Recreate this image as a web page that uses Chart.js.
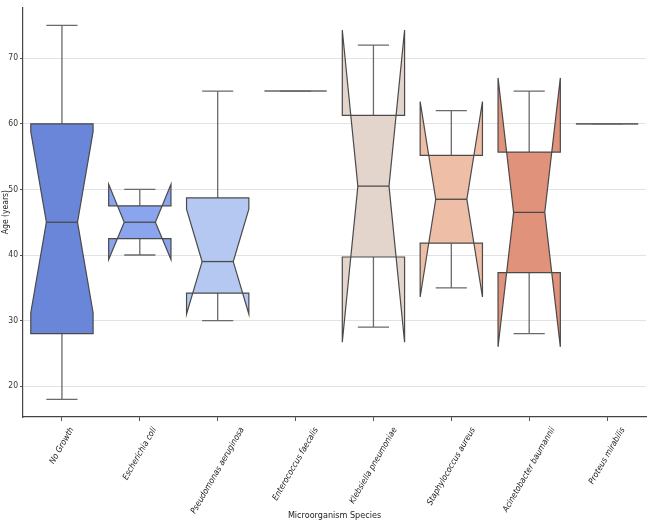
<!DOCTYPE html>
<html>
<head>
<meta charset="utf-8">
<script src="https://cdn.jsdelivr.net/npm/chart.js@4.4.1/dist/chart.umd.min.js"></script>
<style>
html,body{margin:0;padding:0;background:#fff;}
#wrap{width:650px;height:525px;}
</style>
</head>
<body>
<div id="wrap"><canvas id="c" width="650" height="525"></canvas></div>
<script>
const categories = ['No Growth','Escherichia coli','Pseudomonas aeruginosa','Enterococcus faecalis','Klebsiella pneumoniae','Staphylococcus aureus','Acinetobacter baumannii','Proteus mirabilis'];
const whiskerLow  = [18, 40, 30, 65, 29, 35, 28, 60];
const q1          = [28, 42.5, 34.2, 65, 39.7, 41.8, 37.3, 60];
const median      = [45, 45, 39, 65, 50.5, 48.5, 46.5, 60];
const q3          = [60, 47.5, 48.7, 65, 61.3, 55.2, 55.7, 60];
const whiskerHigh = [75, 50, 65, 65, 72, 62, 65, 60];
const notchLow    = [31.2, 39.3, 31, 65, 26.7, 33.6, 26, 60];
const notchHigh   = [58.8, 50.8, 47, 65, 74.3, 63.4, 67, 60];
const yTicks      = [20, 30, 40, 50, 60, 70];
const boxColors   = ['#6a86d8','#8aa5ee','#b4c8f2','#d9dde6','#e4d5cc','#eebfa6','#e0927a','#c86a5a'];

const FONT = '"DejaVu Sans Condensed", "DejaVu Sans", sans-serif';

const boxPlugin = {
  id: 'notchedBoxes',
  afterDatasetsDraw(chart) {
    const {ctx, scales: {x, y}} = chart;
    const band = x.getPixelForValue(1) - x.getPixelForValue(0);
    const hw = band * 0.8 / 2, nw = hw / 2, cw = hw / 2;
    ctx.save();
    categories.forEach((c, i) => {
      const cx = x.getPixelForValue(i);
      const L = cx - hw, R = cx + hw;
      const Y = v => y.getPixelForValue(v);
      // whiskers & caps
      ctx.strokeStyle = '#6a6a6a';
      ctx.lineWidth = 1.3;
      ctx.beginPath();
      ctx.moveTo(cx, Y(q1[i])); ctx.lineTo(cx, Y(whiskerLow[i]));
      ctx.moveTo(cx, Y(q3[i])); ctx.lineTo(cx, Y(whiskerHigh[i]));
      ctx.moveTo(cx - cw, Y(whiskerLow[i])); ctx.lineTo(cx + cw, Y(whiskerLow[i]));
      ctx.moveTo(cx - cw, Y(whiskerHigh[i])); ctx.lineTo(cx + cw, Y(whiskerHigh[i]));
      ctx.stroke();
      const flat = q1[i] === q3[i];
      // notched box
      ctx.beginPath();
      ctx.moveTo(L, Y(q1[i]));
      ctx.lineTo(R, Y(q1[i]));
      ctx.lineTo(R, Y(notchLow[i]));
      ctx.lineTo(cx + nw, Y(median[i]));
      ctx.lineTo(R, Y(notchHigh[i]));
      ctx.lineTo(R, Y(q3[i]));
      ctx.lineTo(L, Y(q3[i]));
      ctx.lineTo(L, Y(notchHigh[i]));
      ctx.lineTo(cx - nw, Y(median[i]));
      ctx.lineTo(L, Y(notchLow[i]));
      ctx.closePath();
      ctx.fillStyle = boxColors[i];
      ctx.fill();
      ctx.strokeStyle = flat ? '#666666' : '#4a4a4a';
      ctx.lineWidth = flat ? 1.6 : 1.2;
      ctx.lineJoin = 'miter';
      ctx.stroke();
      // median
      if (!flat) {
        ctx.beginPath();
        ctx.moveTo(cx - nw, Y(median[i]));
        ctx.lineTo(cx + nw, Y(median[i]));
        ctx.strokeStyle = '#4a4a4a';
        ctx.lineWidth = 1.3;
        ctx.stroke();
      }
    });
    ctx.restore();
  },
  afterDraw(chart) {
    const {ctx, scales: {x}} = chart;
    const ang = 60 * Math.PI / 180;
    ctx.save();
    ctx.font = 'italic 8.5px ' + FONT;
    ctx.fillStyle = '#222';
    ctx.textAlign = 'center';
    ctx.textBaseline = 'middle';
    const h = 8.5;
    categories.forEach((c, i) => {
      const cx = x.getPixelForValue(i);
      const w = ctx.measureText(c).width;
      const bh = w * Math.sin(ang) + h * Math.cos(ang);
      const top = x.top + 9;
      ctx.save();
      ctx.translate(cx, top + bh / 2);
      ctx.rotate(-ang);
      ctx.fillText(c, 0, 0);
      ctx.restore();
    });
    ctx.restore();
  }
};

new Chart(document.getElementById('c'), {
  type: 'line',
  data: {
    labels: categories,
    datasets: [{ data: median, showLine: false, pointRadius: 0, pointHoverRadius: 0 }]
  },
  options: {
    responsive: false,
    animation: false,
    events: [],
    layout: { padding: { top: 4, right: 4, left: 0, bottom: 0 } },
    plugins: { legend: { display: false }, tooltip: { enabled: false } },
    scales: {
      x: {
        type: 'category',
        offset: true,
        grid: { display: true, drawOnChartArea: false, drawTicks: true, tickLength: 4, offset: false, color: '#555' },
        border: { display: true, color: '#444', width: 1.2 },
        ticks: { display: false },
        title: { display: true, text: 'Microorganism Species', color: '#222', font: { family: FONT, size: 9 }, padding: { top: 0, bottom: 4 } },
        afterFit(s) { s.height = 108; }
      },
      y: {
        min: 15.3,
        max: 77.8,
        afterBuildTicks(s) { s.ticks = yTicks.map(v => ({ value: v })); },
        grid: { color: '#e2e2e2', lineWidth: 1, drawTicks: true, tickLength: 3, tickColor: '#555' },
        border: { display: true, color: '#444', width: 1.2 },
        ticks: { color: '#333', font: { family: FONT, size: 8.5 }, padding: 2 },
        title: { display: true, text: 'Age (years)', color: '#222', font: { family: FONT, size: 8.5 }, padding: { top: 1, bottom: 0 } },
        afterFit(s) { s.width = 23; }
      }
    }
  },
  plugins: [boxPlugin]
});
</script>
</body>
</html>
